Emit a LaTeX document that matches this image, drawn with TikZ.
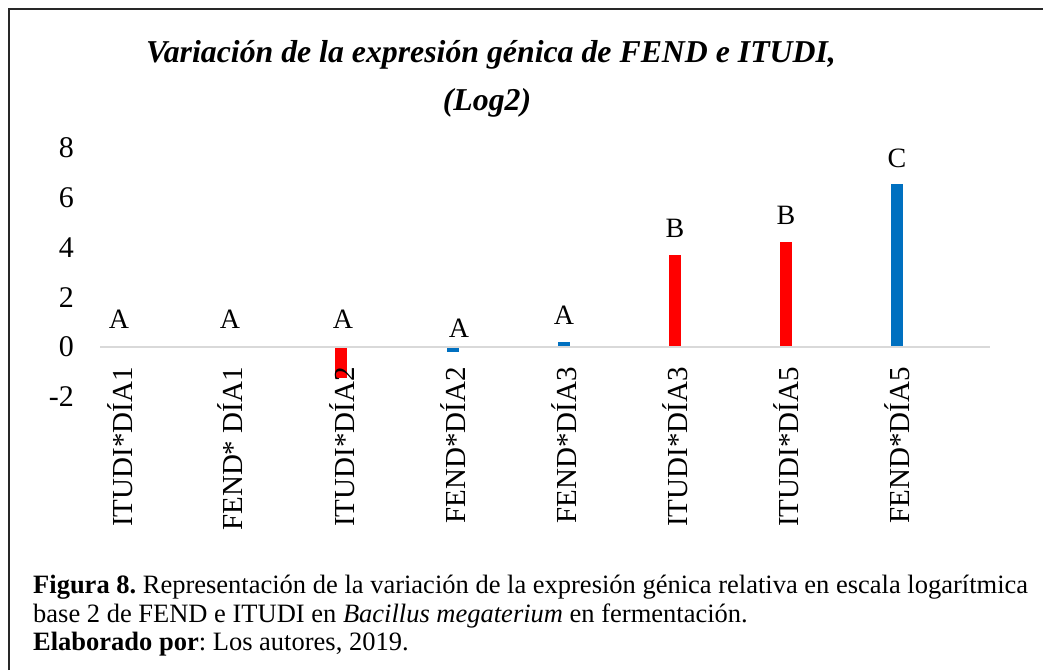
\documentclass[tikz,border=0pt]{standalone}
\usepackage{fontspec}
\setmainfont{Liberation Serif}
\usetikzlibrary{positioning}
\definecolor{barred}{RGB}{255,0,0}
\definecolor{barblue}{RGB}{0,112,192}
\definecolor{axisgray}{RGB}{217,217,217}
\definecolor{framegray}{RGB}{40,40,40}
\frenchspacing

\begin{document}
\begin{tikzpicture}[x=1pt,y=-1pt,
  ticklbl/.style={font=\fontsize{30}{32}\selectfont, inner sep=0pt, anchor=east},
  catlbl/.style={font=\fontsize{29}{32}\selectfont, inner sep=0pt, anchor=east, rotate=90},
  grplbl/.style={font=\fontsize{28}{30}\selectfont, inner sep=0pt, anchor=base},
  caplbl/.style={font=\fontsize{26.5}{30}\selectfont, inner sep=0pt, anchor=base west}]
\useasboundingbox (0,0) rectangle (1043,670);
% Frame
\draw[framegray, line width=2pt] (9,670) -- (9,9) -- (1043,9);
% Title
\node[font=\fontsize{31.8}{36}\selectfont\bfseries\itshape, inner sep=0pt, anchor=base] (title1) at (491,62) {Variación de la expresión génica de FEND e ITUDI,};
\node[font=\fontsize{31.8}{36}\selectfont\bfseries\itshape, inner sep=0pt, anchor=base] (title2) at (487,110) {(Log2)};
% Value axis labels
\foreach \v in {-2,0,2,4,6,8} {
  \node[ticklbl] (tick\v) at (74,347-24.9*\v) {\v};
}
% Bars
\foreach \x/\v/\c in {341/-1.25/barred, 453/-0.2/barblue, 564/0.2/barblue,
                      675/3.7/barred, 786/4.2/barred, 897/6.55/barblue} {
  \fill[\c] (\x-6,347) rectangle (\x+6,347-24.9*\v);
}
% Category axis
\coordinate (axl) at (100,347);
\coordinate (axr) at (990,347);
\draw[axisgray, line width=1.5pt] (axl) -- (axr);
% Category labels
\foreach \i/\x/\t in {1/120/ITUDI*DÍA1, 2/230/FEND* DÍA1, 3/342/ITUDI*DÍA2, 4/453/FEND*DÍA2,
                      5/564/FEND*DÍA3, 6/675/ITUDI*DÍA3, 7/786/ITUDI*DÍA5, 8/897/FEND*DÍA5} {
  \node[catlbl] (cat\i) at (\x,367) {\t};
}
% Group letters
\foreach \i/\x/\y/\t in {1/119/328/A, 2/230/328/A, 3/343/328/A, 4/459/337/A,
                         5/564/324/A, 6/675/237/B, 7/786/224/B, 8/897/167/C} {
  \node[grplbl] (grp\i) at (\x,\y) {\t};
}
% Caption
\node[caplbl] (cap1) at (33,593) {\textbf{Figura 8.} Representación de la variación de la expresión génica relativa en escala logarítmica};
\node[caplbl] (cap2) at (33,622) {base 2 de FEND e ITUDI en \textit{Bacillus megaterium} en fermentación.};
\node[caplbl] (cap3) at (33,650) {\textbf{Elaborado por}: Los autores, 2019.};
\end{tikzpicture}
\end{document}
